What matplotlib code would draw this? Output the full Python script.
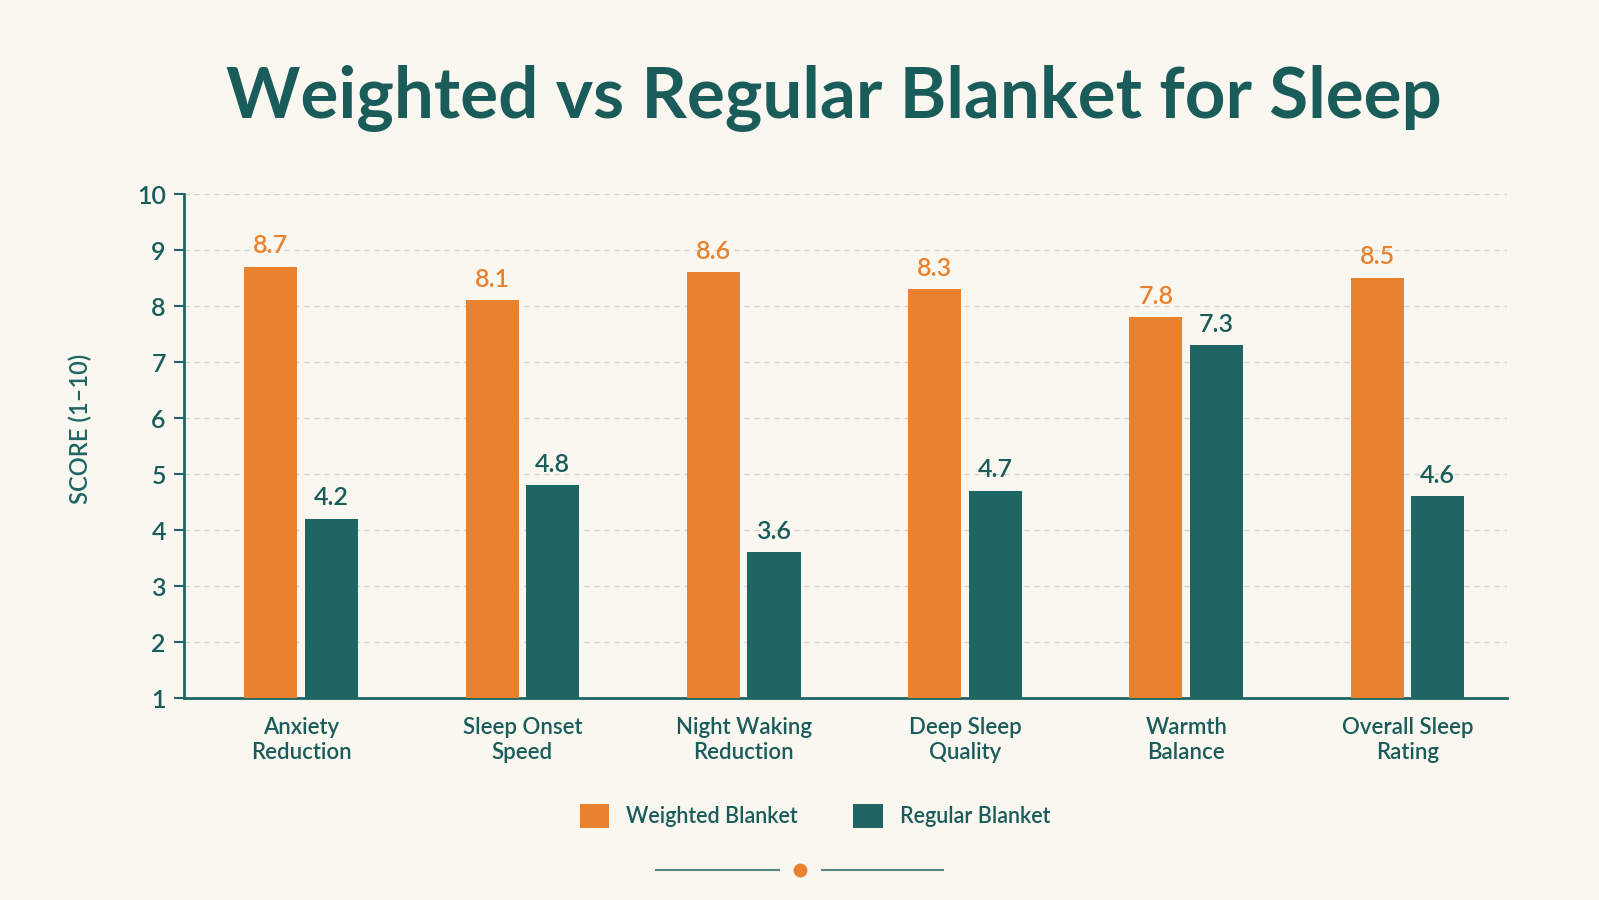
import numpy as np
import matplotlib.pyplot as plt
from matplotlib.patches import Patch
from matplotlib.lines import Line2D

categories = ["Anxiety\nReduction", "Sleep Onset\nSpeed", "Night Waking\nReduction",
              "Deep Sleep\nQuality", "Warmth\nBalance", "Overall Sleep\nRating"]
weighted = [8.7, 8.1, 8.6, 8.3, 7.8, 8.5]
regular = [4.2, 4.8, 3.6, 4.7, 7.3, 4.6]
series_names = ["Weighted Blanket", "Regular Blanket"]

bg = "#FAF7F0"
orange = "#E8822E"
teal = "#1E6563"
dark = "#1A5C5A"

plt.rcParams['font.family'] = ['Lato', 'DejaVu Sans']

fig = plt.figure(figsize=(15.99, 9.0), dpi=100, facecolor=bg)
ax = fig.add_axes([0.115, 0.2244, 0.8275, 0.56])
ax.set_facecolor(bg)

x = np.arange(len(categories))
w = 0.24
off = 0.137
ax.bar(x - off, np.array(weighted) - 1, w, bottom=1, color=orange, zorder=3)
ax.bar(x + off, np.array(regular) - 1, w, bottom=1, color=teal, zorder=3)

for xi, v in zip(x - off, weighted):
    ax.annotate(f"{v:.1f}", (xi, v), xytext=(0, 7), textcoords="offset points",
                ha="center", va="bottom", color=orange, fontsize=18, fontweight="semibold")
for xi, v in zip(x + off, regular):
    ax.annotate(f"{v:.1f}", (xi, v), xytext=(0, 7), textcoords="offset points",
                ha="center", va="bottom", color=dark, fontsize=18, fontweight="semibold")

ax.set_xlim(-0.53, len(categories) - 0.55)
ax.set_ylim(1, 10)
ax.set_yticks(range(1, 11))
ax.set_xticks(x)
ax.set_xticklabels(categories, fontsize=16, color=dark, linespacing=1.2,
                   fontweight="semibold")
ax.tick_params(axis="x", length=0, pad=14)
ax.tick_params(axis="y", length=7, width=1.5, color=teal, labelsize=18,
               labelcolor=dark, pad=6)
for lab in ax.get_yticklabels():
    lab.set_fontweight("semibold")
ax.grid(axis="y", linestyle=(0, (4, 4)), color="#CFCFCA", linewidth=0.9, zorder=0)

for s in ["top", "right"]:
    ax.spines[s].set_visible(False)
for s in ["left", "bottom"]:
    ax.spines[s].set_color(teal)
    ax.spines[s].set_linewidth(2)

ax.set_ylabel("SCORE (1\u201310)", fontsize=17, color=teal, fontweight="semibold")
ax.yaxis.set_label_coords(-0.069, 0.535)

fig.text(0.5215, 0.89, "Weighted vs Regular Blanket for Sleep", ha="center", va="center",
         fontsize=51, fontweight="bold", color=dark)

handles = [Patch(facecolor=orange, label=series_names[0]),
           Patch(facecolor=teal, label=series_names[1])]
leg = fig.legend(handles=handles, loc="center", bbox_to_anchor=(0.5096, 0.093), ncol=2,
                 frameon=False, fontsize=15.5, handlelength=1.35, handleheight=1.35,
                 handletextpad=0.8, columnspacing=2.6, labelcolor=dark)
for t in leg.get_texts():
    t.set_fontweight("semibold")

# small ornament under the legend
fig.add_artist(Line2D([0.410, 0.487], [0.033, 0.033], color="#5B8584", lw=1.5,
                      transform=fig.transFigure))
fig.add_artist(Line2D([0.514, 0.590], [0.033, 0.033], color="#5B8584", lw=1.5,
                      transform=fig.transFigure))
fig.add_artist(Line2D([0.5], [0.033], marker="o", markersize=10, color=orange,
                      markeredgewidth=0, transform=fig.transFigure))

fig.savefig("out.png", dpi=100, facecolor=bg)
